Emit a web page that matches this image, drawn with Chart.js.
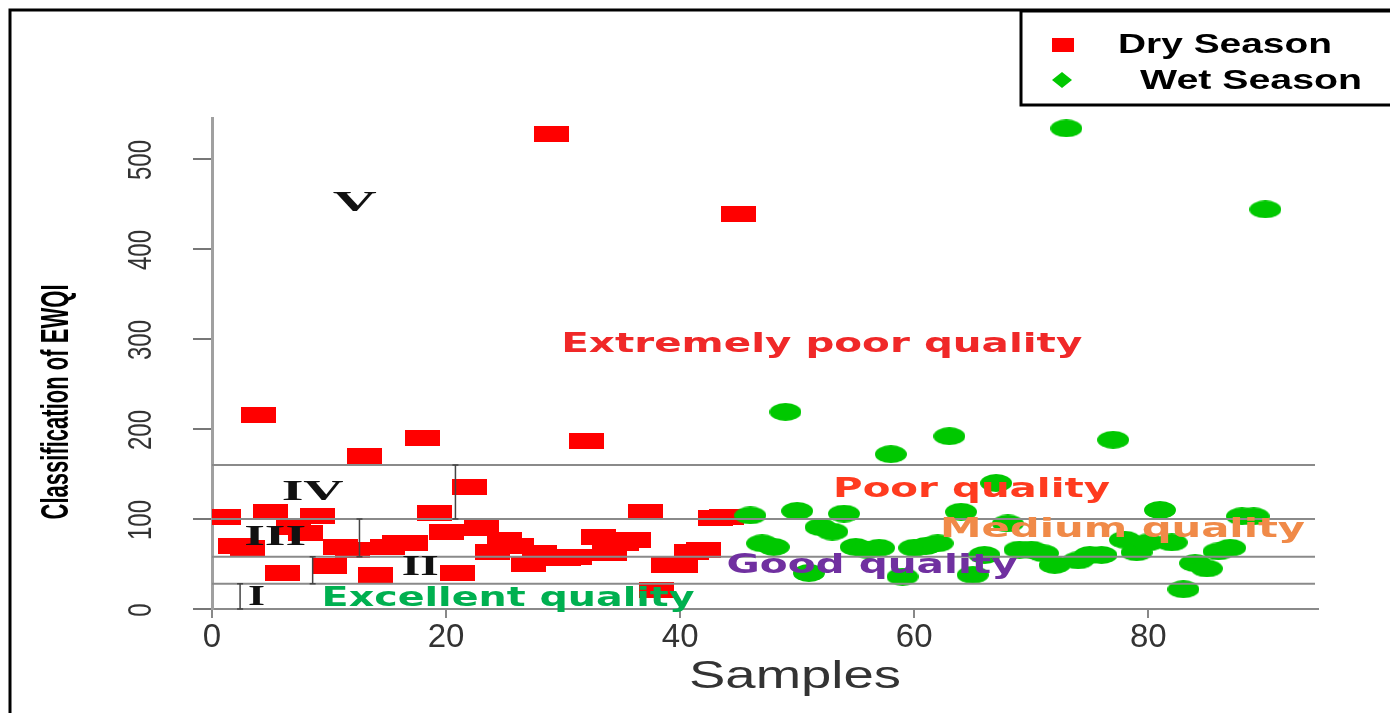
<!DOCTYPE html>
<html>
<head>
<meta charset="utf-8">
<script src="https://cdn.jsdelivr.net/npm/chart.js@4.4.0/dist/chart.umd.min.js"></script>
<style>
  html, body { margin: 0; padding: 0; background: #fff; }
  #wrap { position: relative; width: 1390px; height: 713px; }
</style>
</head>
<body>
<div id="wrap"><canvas id="chart"></canvas></div>
<script>
// EWQI per sample
const drySamples = [1, 2, 3, 4, 5, 6, 7, 8, 9, 10, 11, 12, 13, 14, 15, 16, 17, 18, 19, 20, 21, 22, 23,
  24, 25, 26, 27, 28, 29, 30, 31, 32, 33, 34, 35, 36, 37, 38, 39, 40, 41, 42, 43, 44, 45];
const dryEwqi = [102, 70, 68, 215, 108, 40, 91, 84, 103, 48, 69, 66, 170, 38, 69, 73, 73, 190, 107, 85, 40, 136, 90,
  63, 77, 70, 50, 62, 528, 57, 58, 187, 80, 62, 73, 77, 108, 21, 49, 49, 63, 66, 101, 102, 439];

const wetSamples = [46, 47, 48, 49, 50, 51, 52, 53, 54, 55, 56, 57, 58, 59, 60, 61, 62, 63, 64, 65, 66, 67, 68,
  69, 70, 71, 72, 73, 74, 75, 76, 77, 78, 79, 80, 81, 82, 83, 84, 85, 86, 87, 88, 89, 90];
const wetEwqi = [104, 73, 69, 219, 109, 40, 91, 86, 106, 69, 66, 68, 172, 36, 68, 70, 73, 192, 108, 38, 60, 140, 95,
  66, 66, 62, 49, 534, 54, 60, 60, 188, 77, 63, 74, 110, 74, 22, 51, 45, 64, 68, 103, 103, 444];

const xTicks = [0, 20, 40, 60, 80];
const yTicks = [0, 100, 200, 300, 400, 500];

// class limits of EWQI, lowest first
const classBounds = [0, 28, 58, 100, 160];
const classNumerals = ['I', 'II', 'III', 'IV', 'V'];
const qualityNames = ['Excellent quality', 'Good quality', 'Medium quality', 'Poor quality', 'Extremely poor quality'];
const qualityColors = ['#00b050', '#7030a0', '#f08a48', '#ff3b1f', '#f02828'];

// where the class texts sit (data units) and how wide they are (px)
const numeralSpots = [
  { x: 3.8, y: 13, w: 17 }, { x: 17.8, y: 46, w: 37 }, { x: 5.4, y: 79, w: 62 },
  { x: 8.6, y: 129, w: 62 }, { x: 12.2, y: 450, w: 44 }
];
const bracketX = [2.4, 8.6, 12.6, 20.8];
const qualitySpots = [
  { x: 25.3, y: 11, w: 373 }, { x: 56.4, y: 48, w: 291 }, { x: 77.8, y: 88, w: 365 },
  { x: 64.9, y: 132, w: 277 }, { x: 52.1, y: 293, w: 521 }
];

function makeMarker(w, h, color, round) {
  const c = document.createElement('canvas');
  c.width = w; c.height = h;
  const g = c.getContext('2d');
  g.fillStyle = color;
  if (round) {
    g.beginPath();
    g.ellipse(w / 2, h / 2, w / 2, h / 2, 0, 0, Math.PI * 2);
    g.fill();
  } else {
    g.fillRect(0, 0, w, h);
  }
  return c;
}

// text squeezed or stretched to a given width
function fitText(ctx, str, cx, cy, font, color, width, rot, thick) {
  ctx.save();
  ctx.font = font;
  ctx.fillStyle = color;
  ctx.textAlign = 'center';
  ctx.textBaseline = 'middle';
  const w = ctx.measureText(str).width;
  ctx.translate(cx, cy);
  ctx.rotate(rot || 0);
  ctx.scale(width ? width / w : 1, thick || 1);
  ctx.fillText(str, 0, 0);
  ctx.restore();
}

const decor = {
  id: 'decor',
  beforeDraw(chart) {
    const ctx = chart.ctx;
    ctx.save();
    ctx.strokeStyle = '#000';
    ctx.lineWidth = 3;
    ctx.beginPath();
    ctx.moveTo(10, 713);
    ctx.lineTo(10, 10);
    ctx.lineTo(1390, 10);
    ctx.stroke();
    ctx.restore();
  },
  afterDatasetsDraw(chart) {
    const { ctx, scales: { x, y } } = chart;
    ctx.save();
    // class limit lines
    ctx.strokeStyle = '#8a8a8a';
    ctx.lineWidth = 2;
    classBounds.slice(1).forEach(v => {
      const py = y.getPixelForValue(v);
      ctx.beginPath();
      ctx.moveTo(x.left, py);
      ctx.lineTo(x.right - 3, py);
      ctx.stroke();
    });
    // small range brackets
    ctx.strokeStyle = '#444';
    ctx.lineWidth = 1.5;
    bracketX.forEach((bx, i) => {
      const px = x.getPixelForValue(bx);
      const y1 = y.getPixelForValue(classBounds[i]);
      const y2 = y.getPixelForValue(classBounds[i + 1]);
      ctx.beginPath();
      ctx.moveTo(px, y1); ctx.lineTo(px, y2);
      ctx.moveTo(px - 3, y1); ctx.lineTo(px + 3, y1);
      ctx.moveTo(px - 3, y2); ctx.lineTo(px + 3, y2);
      ctx.stroke();
    });
    ctx.restore();

    classNumerals.forEach((n, i) => {
      const s = numeralSpots[i];
      fitText(ctx, n, x.getPixelForValue(s.x), y.getPixelForValue(s.y),
        'bold 29px "Liberation Serif"', '#111', s.w);
    });
    qualityNames.forEach((q, i) => {
      const s = qualitySpots[i];
      fitText(ctx, q, x.getPixelForValue(s.x), y.getPixelForValue(s.y),
        'bold 27px "DejaVu Sans"', qualityColors[i], s.w);
    });

    // rotated y tick labels, R style
    yTicks.forEach(v => {
      fitText(ctx, String(v), 142, y.getPixelForValue(v) + 1,
        '24px "Liberation Sans"', '#333', null, -Math.PI / 2, 1.4);
    });
    // axis titles
    fitText(ctx, 'Classification of EWQI', 57, 402, 'bold 27px "Liberation Sans"', '#000', 235, -Math.PI / 2, 1.45);
    fitText(ctx, 'Samples', 795, 678, '38px "Liberation Sans"', '#333', 212);

    // legend box
    ctx.save();
    ctx.fillStyle = '#fff';
    ctx.fillRect(1021, 11, 372, 94);
    ctx.strokeStyle = '#000';
    ctx.lineWidth = 3;
    ctx.strokeRect(1021, 11, 372, 94);
    ctx.fillStyle = '#ff0000';
    ctx.fillRect(1052, 38, 22, 14);
    ctx.fillStyle = '#00c800';
    ctx.beginPath();
    ctx.moveTo(1062, 72); ctx.lineTo(1072, 80); ctx.lineTo(1062, 88); ctx.lineTo(1052, 80);
    ctx.closePath();
    ctx.fill();
    ctx.restore();
    fitText(ctx, 'Dry Season', 1225, 45, 'bold 25px "Liberation Sans"', '#000', 214, 0, 1.1);
    fitText(ctx, 'Wet Season', 1251, 81, 'bold 25px "Liberation Sans"', '#000', 222, 0, 1.1);
  }
};

const dryPoints = drySamples.map((s, i) => ({ x: s, y: dryEwqi[i] }));
const wetPoints = wetSamples.map((s, i) => ({ x: s, y: wetEwqi[i] }));

new Chart(document.getElementById('chart'), {
  type: 'scatter',
  data: {
    datasets: [
      {
        label: 'Wet Season',
        data: wetPoints,
        pointStyle: makeMarker(32, 18, '#00c800', true),
        order: 0
      },
      {
        label: 'Dry Season',
        data: dryPoints,
        pointStyle: makeMarker(35, 16, '#ff0000', false),
        order: 1
      }
    ]
  },
  options: {
    responsive: true,
    maintainAspectRatio: false,
    animation: false,
    layout: { padding: { left: 0, top: 118, right: 72, bottom: 0 } },
    plugins: { legend: { display: false }, tooltip: { enabled: false } },
    scales: {
      x: {
        type: 'linear',
        min: 0,
        max: 94.5,
        afterBuildTicks: s => { s.ticks = xTicks.map(v => ({ value: v })); },
        afterFit: s => { s.height = 104; },
        ticks: {
          color: '#333',
          padding: 0,
          maxRotation: 0,
          font: { family: 'Liberation Sans', size: 33 }
        },
        grid: { drawOnChartArea: false, drawTicks: true, tickLength: 9, color: '#888', lineWidth: 2 },
        border: { color: '#8a8a8a', width: 2 }
      },
      y: {
        type: 'linear',
        min: 0,
        max: 545.5,
        afterBuildTicks: s => { s.ticks = yTicks.map(v => ({ value: v })); },
        afterFit: s => { s.width = 212; },
        ticks: { display: false },
        grid: { drawOnChartArea: false, drawTicks: true, tickLength: 19, color: '#777', lineWidth: 2 },
        border: { color: '#a0a0a0', width: 3 }
      }
    }
  },
  plugins: [decor]
});
</script>
</body>
</html>
